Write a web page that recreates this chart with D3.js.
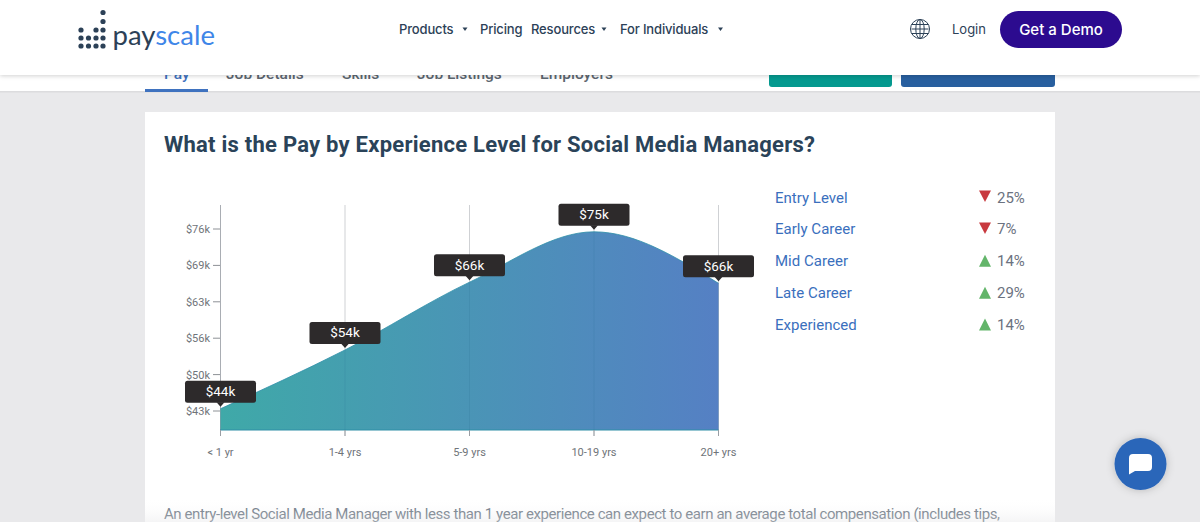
<!DOCTYPE html>
<html><head><meta charset="utf-8">
<script src="https://cdn.jsdelivr.net/npm/d3@7"></script>
<style>html,body{margin:0;padding:0;background:#e9e9eb;overflow:hidden}svg{display:block}text{font-family:Roboto,sans-serif}</style>
</head><body><svg id="c" width="1200" height="522"></svg>
<script>
const categories=["< 1 yr","1-4 yrs","5-9 yrs","10-19 yrs","20+ yrs"];
const pay=[43.4,53.9,66,75,65.8];
const payLabels=["$44k","$54k","$66k","$75k","$66k"];
const yTicks=[43,49.5,56,62.5,69,75.5];
const yTickLabels=["$43k","$50k","$56k","$63k","$69k","$76k"];
const levels=["Entry Level","Early Career","Mid Career","Late Career","Experienced"];
const changes=[25,7,14,29,14];
const directions=[-1,-1,1,1,1];
const navItems=["Products","Pricing","Resources","For Individuals"];
const tabs=["Pay","Job Details","Skills","Job Listings","Employers"];

const svg=d3.select("#c");
const defs=svg.append("defs");
const grad=defs.append("linearGradient").attr("id","g").attr("x1",0).attr("x2",1).attr("y1",0).attr("y2",0);
grad.append("stop").attr("offset",0).attr("stop-color","#3fa9a8");
grad.append("stop").attr("offset",1).attr("stop-color","#5580c4");
const sh=defs.append("filter").attr("id","sh").attr("x","-20%").attr("y","-20%").attr("width","140%").attr("height","160%");
sh.append("feDropShadow").attr("dx",0).attr("dy",1).attr("stdDeviation",2).attr("flood-color","#000").attr("flood-opacity",.18);
const sh2=defs.append("filter").attr("id","sh2").attr("x","-30%").attr("y","-30%").attr("width","160%").attr("height","160%");
sh2.append("feDropShadow").attr("dx",0).attr("dy",0).attr("stdDeviation",4).attr("flood-color","#000").attr("flood-opacity",.22);
const fade=defs.append("linearGradient").attr("id","fade").attr("x1",0).attr("x2",0).attr("y1",0).attr("y2",1);
fade.append("stop").attr("offset",0).attr("stop-color","#fff").attr("stop-opacity",0);
fade.append("stop").attr("offset",1).attr("stop-color","#e8e8ea").attr("stop-opacity",.45);

// page
svg.append("rect").attr("y",75).attr("width",1200).attr("height",17).attr("fill","#fff");
svg.append("rect").attr("y",91).attr("width",1200).attr("height",1.5).attr("fill","#dcdcde");
svg.append("rect").attr("x",145).attr("y",89).attr("width",63).attr("height",3).attr("fill","#3f72bf");
const tabX=[164,226,342,417,540];
svg.selectAll(".tab").data(tabs).join("text").attr("x",(d,i)=>tabX[i]).attr("y",79)
 .attr("font-size",15.5).attr("font-weight",500).attr("fill",(d,i)=>i==0?"#3f72bf":"#5c6670").text(d=>d);
svg.append("rect").attr("x",769).attr("y",70).attr("width",123).attr("height",17).attr("rx",3).attr("fill","#04998f");
svg.append("rect").attr("x",901).attr("y",70).attr("width",154).attr("height",17).attr("rx",3).attr("fill","#285f9f");
svg.append("rect").attr("x",145).attr("y",112).attr("width",910).attr("height",410).attr("fill","#fff");
svg.append("text").attr("x",164).attr("y",152).attr("font-size",22).attr("font-weight",700).attr("fill","#2a4359")
 .attr("textLength",651).text("What is the Pay by Experience Level for Social Media Managers?");

// chart
const x=d3.scalePoint().domain(categories).range([220.5,718.5]);
const y=d3.scaleLinear().domain([43,75.5]).range([411,229]);
const floorY=430,topY=205;
const g=svg.append("g");
categories.forEach(c=>{
 g.append("line").attr("x1",x(c)).attr("x2",x(c)).attr("y1",topY).attr("y2",floorY+6).attr("stroke",c===categories[0]?"#a9adb3":"#cfd1d4").attr("stroke-width",1);
});
const pts=categories.map((c,i)=>[x(c),y(pay[i])]);
const area=d3.area().x(d=>d[0]).y0(floorY).y1(d=>d[1]).curve(d3.curveMonotoneX);
g.append("path").attr("d",area(pts)).attr("fill","url(#g)");
g.append("path").attr("d",d3.line().curve(d3.curveMonotoneX)(pts)).attr("fill","none").attr("stroke","#2f8fa8").attr("stroke-width",.8);
g.append("line").attr("x1",220).attr("x2",718.500).attr("y1",floorY).attr("y2",floorY).attr("stroke","#2e8ea6").attr("stroke-width",1);
categories.forEach(c=>{
 g.append("line").attr("x1",x(c)).attr("x2",x(c)).attr("y1",floorY).attr("y2",floorY+6).attr("stroke","#9a9ea4");
 g.append("line").attr("x1",x(c)).attr("x2",x(c)).attr("y1",y(pay[categories.indexOf(c)])).attr("y2",floorY).attr("stroke","#2a6f90").attr("stroke-opacity",.18);
 g.append("text").attr("x",x(c)).attr("y",456).attr("text-anchor","middle").attr("font-size",11).attr("fill","#6f7479").text(c);
});
yTicks.forEach((t,i)=>{
 g.append("line").attr("x1",213).attr("x2",220).attr("y1",y(t)).attr("y2",y(t)).attr("stroke","#8d9196");
 g.append("text").attr("x",210).attr("y",y(t)+4).attr("text-anchor","end").attr("font-size",11).attr("fill","#6f7479").text(yTickLabels[i]);
});
categories.forEach((c,i)=>{
 const px=x(c),py=y(pay[i]),b=py-6;
 const t=g.append("g");
 t.append("rect").attr("x",px-35.5).attr("y",b-22).attr("width",71).attr("height",22).attr("rx",2.5).attr("fill","#2d2a2b");
 t.append("path").attr("d",d3.line()([[px-4,b-.5],[px+4,b-.5],[px,b+4]])+"Z").attr("fill","#2d2a2b");
 t.append("text").attr("x",px).attr("y",b-6.5).attr("text-anchor","middle").attr("font-size",13.5).attr("fill","#fff").text(payLabels[i]);
});

// list
const rowY=d3.scaleLinear().domain([0,4]).range([197,324.5]);
levels.forEach((l,i)=>{
 const ry=rowY(i);
 svg.append("text").attr("x",775).attr("y",ry+5.5).attr("font-size",15).attr("letter-spacing",.02).attr("fill","#3a6fbd").text(l);
 const dir=directions[i];
 const tri=dir<0?[[979,ry-6.5],[991,ry-6.5],[985,ry+5]]:[[979,ry+6],[991,ry+6],[985,ry-6]];
 svg.append("path").attr("d",d3.line()(tri)+"Z").attr("fill",dir<0?"#c8393f":"#63b56a");
 svg.append("text").attr("x",997).attr("y",ry+5.5).attr("font-size",15).attr("fill","#6b7280").text(changes[i]+"%");
});

// body text
svg.append("text").attr("x",164).attr("y",519).attr("font-size",15).attr("fill","#5d6a77").attr("textLength",836)
 .text("An entry-level Social Media Manager with less than 1 year experience can expect to earn an average total compensation (includes tips,");
svg.append("rect").attr("x",145).attr("y",498).attr("width",910).attr("height",24).attr("fill","url(#fade)");

// header
svg.append("rect").attr("width",1200).attr("height",75).attr("fill","#fff").attr("filter","url(#sh)");
const colX=[81,88.500,96,103];
const dots=[[0,30],[0,38],[0,46],[1,38],[1,46],[2,30],[2,38],[2,46],[3,12.5],[3,21.5],[3,30],[3,38],[3,46]];
svg.selectAll(".dot").data(dots).join("circle").attr("cx",d=>colX[d[0]]).attr("cy",d=>d[1]).attr("r",2.6).attr("fill","#2c4157");
svg.append("text").attr("x",112.5).attr("y",45).attr("font-size",27.5).attr("style","font-family:Lato").attr("fill","#2c4157")
 .text("pay").append("tspan").attr("fill","#3f86e8").text("scale");
const navX=[399,480,531,620];
navItems.forEach((n,i)=>{
 svg.append("text").attr("x",navX[i]).attr("y",33.5).attr("font-size",13).attr("font-weight",500).attr("style","font-family:Inter").attr("letter-spacing",-.15).attr("fill","#2c4157").text(n);
});
[465,604,720.500].forEach(cx=>svg.append("path").attr("d",d3.line()([[cx-2.5,27.5],[cx+2.5,27.5],[cx,31]])+"Z").attr("fill","#2c4157"));
const glob=svg.append("g").attr("fill","none").attr("stroke","#2c4157").attr("stroke-width",1);
glob.append("circle").attr("cx",920).attr("cy",29).attr("r",9.5);
glob.append("ellipse").attr("cx",920).attr("cy",29).attr("rx",4.2).attr("ry",9.5);
glob.append("line").attr("x1",920).attr("x2",920).attr("y1",19.500).attr("y2",38.500);
[-4.5,0,4.5].forEach(d=>glob.append("line").attr("x1",911.5).attr("x2",928.5).attr("y1",29+d).attr("y2",29+d));
svg.append("text").attr("x",952).attr("y",34).attr("font-size",13).attr("style","font-family:Inter").attr("fill","#2c4157").text("Login");
svg.append("rect").attr("x",1000).attr("y",11).attr("width",122).attr("height",37).attr("rx",18.5).attr("fill","#2c0b8f");
svg.append("text").attr("x",1061).attr("y",34.5).attr("text-anchor","middle").attr("font-size",15).attr("font-weight",500).attr("style","font-family:Inter").attr("fill","#fff").text("Get a Demo");

// chat
svg.append("circle").attr("cx",1140.5).attr("cy",464).attr("r",26).attr("fill","#2b66b9").attr("filter","url(#sh2)");
svg.append("path").attr("d","M1133 454h15a4 4 0 0 1 4 4v9a4 4 0 0 1-4 4h-13l-6 3.500v-16.500a4 4 0 0 1 4-4z").attr("fill","#fff");
</script></body></html>
